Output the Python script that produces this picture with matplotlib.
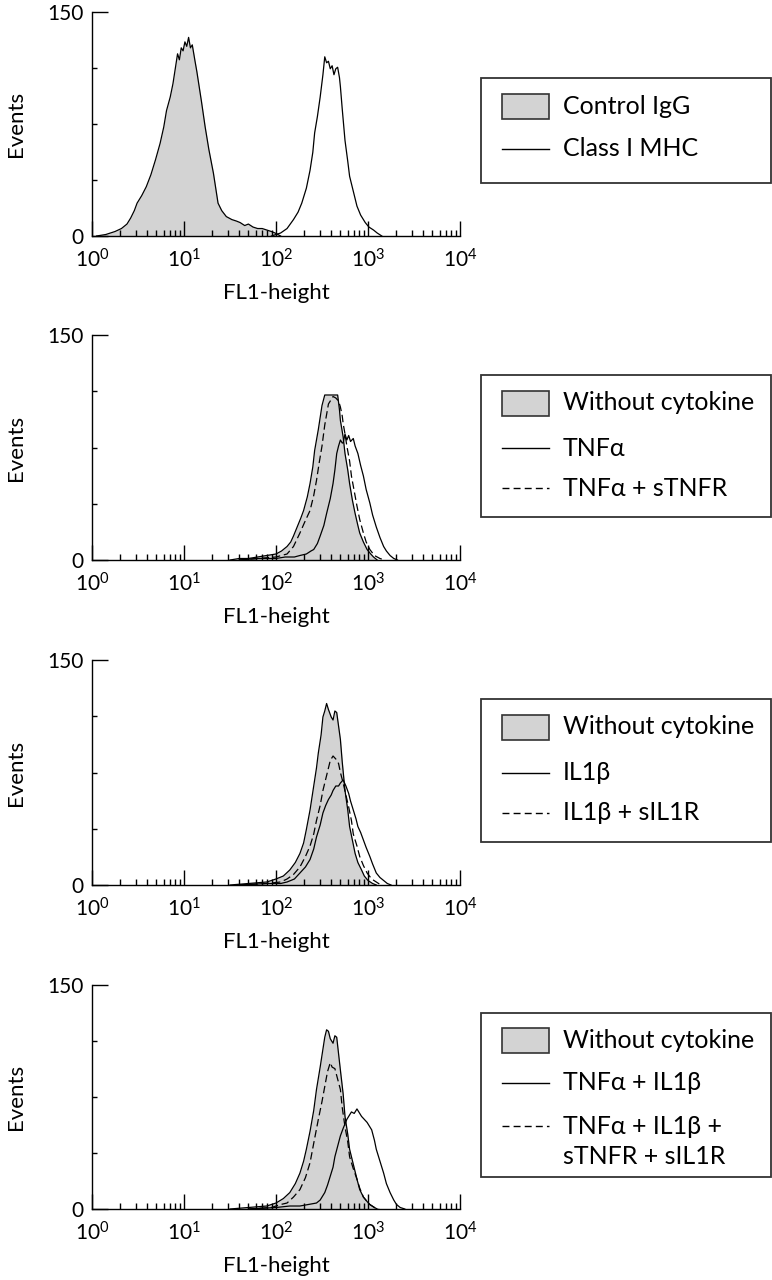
import matplotlib
matplotlib.use('Agg')

import numpy as np
import matplotlib.pyplot as plt
from matplotlib.patches import Rectangle
from matplotlib.lines import Line2D
from matplotlib.ticker import FixedLocator, NullFormatter

plt.rcParams['font.family'] = ['Lato', 'DejaVu Sans']

# ---- data: log10(FL1-height) positions and event counts ----
# panel 1
igg_x = [0.05, 0.15, 0.25, 0.32, 0.38, 0.42, 0.46, 0.49, 0.54, 0.59, 0.64, 0.69, 0.74, 0.78, 0.81, 0.85,
         0.88, 0.90, 0.93, 0.95, 0.97, 0.99, 1.01, 1.03, 1.05, 1.07, 1.09, 1.12, 1.14, 1.16, 1.19, 1.23,
         1.27, 1.32, 1.35, 1.37, 1.41, 1.46, 1.52, 1.57, 1.61, 1.66, 1.70, 1.75, 1.80, 1.85, 1.90, 1.95,
         1.99, 2.05]
igg_y = [0, 1, 3, 5, 8, 12, 17, 22, 27, 33, 41, 51, 62, 73, 84, 93,
         102, 110, 122, 118, 126, 124, 130, 127, 133, 126, 128, 117, 110, 102, 90, 73,
         58, 42, 30, 22, 17, 13, 11, 10, 9, 7, 8, 6, 5, 5, 4, 3,
         2, 0]
mhc_x = [1.95, 2.05, 2.12, 2.19, 2.24, 2.28, 2.33, 2.37, 2.40, 2.42, 2.45, 2.48, 2.51, 2.53, 2.55, 2.57,
         2.59, 2.61, 2.63, 2.65, 2.67, 2.69, 2.70, 2.72, 2.75, 2.78, 2.80, 2.84, 2.88, 2.92, 2.97, 3.01,
         3.06, 3.10, 3.15]
mhc_y = [0, 2, 5, 11, 16, 22, 32, 44, 56, 69, 80, 93, 108, 120, 116, 117,
         112, 114, 108, 112, 113, 106, 100, 85, 64, 50, 40, 30, 20, 14, 9, 6,
         4, 2, 0]

# panel 2
base2_x = [1.50, 1.60, 1.70, 1.80, 1.90, 2.00, 2.06, 2.12, 2.16, 2.19, 2.23, 2.27, 2.30, 2.34, 2.37, 2.40,
           2.42, 2.44, 2.46, 2.48, 2.50, 2.53, 2.60, 2.67, 2.69, 2.70, 2.73, 2.75, 2.78, 2.80, 2.83, 2.86,
           2.89, 2.91, 2.95, 2.99, 3.03, 3.06, 3.10]
base2_y = [0, 1, 1, 2, 3, 4, 6, 9, 12, 16, 22, 28, 33, 42, 51, 62,
           73, 80, 87, 95, 103, 110, 110, 110, 100, 93, 82, 71, 60, 51, 40, 31,
           23, 18, 12, 7, 4, 2, 0]
tnf_x = [1.60, 1.80, 2.00, 2.10, 2.20, 2.26, 2.33, 2.38, 2.41, 2.45, 2.48, 2.52, 2.55, 2.59, 2.62, 2.64,
         2.66, 2.68, 2.70, 2.72, 2.73, 2.75, 2.77, 2.79, 2.81, 2.84, 2.86, 2.89, 2.92, 2.95, 2.98, 3.02,
         3.05, 3.09, 3.13, 3.17, 3.20, 3.24, 3.28, 3.32]
tnf_y = [0, 1, 1, 2, 2, 3, 4, 6, 7, 11, 16, 23, 31, 41, 51, 60,
         71, 76, 80, 78, 78, 84, 80, 83, 79, 81, 76, 71, 63, 56, 47, 38,
         30, 22, 15, 9, 6, 3, 1, 0]
tnf_s_x = [1.60, 1.80, 2.00, 2.12, 2.19, 2.26, 2.31, 2.37, 2.41, 2.44, 2.47, 2.50, 2.53, 2.57, 2.60, 2.62,
           2.65, 2.68, 2.70, 2.72, 2.73, 2.75, 2.77, 2.80, 2.82, 2.85, 2.88, 2.91, 2.95, 2.98, 3.02, 3.07,
           3.13, 3.18]
tnf_s_y = [0, 1, 2, 4, 9, 18, 25, 33, 43, 53, 65, 76, 90, 104, 107, 109,
           108, 106, 102, 96, 91, 84, 76, 66, 56, 46, 36, 27, 18, 12, 7, 3,
           1, 0]

# panel 3
base3_x = [1.50, 1.70, 1.90, 2.00, 2.08, 2.15, 2.21, 2.26, 2.30, 2.33, 2.37, 2.41, 2.44, 2.46, 2.49, 2.51,
           2.53, 2.55, 2.57, 2.60, 2.62, 2.64, 2.66, 2.68, 2.70, 2.72, 2.75, 2.78, 2.80, 2.83, 2.86, 2.89,
           2.93, 2.96, 3.00, 3.05, 3.09]
base3_y = [0, 1, 2, 4, 6, 10, 15, 21, 28, 37, 50, 66, 78, 88, 100, 112,
           116, 121, 117, 112, 110, 116, 115, 106, 97, 82, 63, 50, 39, 30, 21, 15,
           10, 6, 3, 1, 0]
il1_x = [1.60, 1.90, 2.05, 2.12, 2.20, 2.26, 2.32, 2.37, 2.41, 2.44, 2.48, 2.51, 2.54, 2.57, 2.60, 2.62,
         2.65, 2.68, 2.70, 2.73, 2.76, 2.79, 2.81, 2.84, 2.87, 2.89, 2.92, 2.95, 2.98, 3.02, 3.05, 3.09,
         3.13, 3.17, 3.21, 3.25]
il1_y = [0, 1, 1, 2, 4, 8, 12, 17, 24, 32, 40, 48, 53, 57, 60, 63,
         66, 66, 68, 70, 66, 61, 56, 50, 44, 39, 35, 30, 25, 19, 14, 8,
         5, 3, 1, 0]
il1_s_x = [1.60, 1.90, 2.05, 2.12, 2.19, 2.26, 2.32, 2.37, 2.41, 2.44, 2.48, 2.51, 2.55, 2.59, 2.62, 2.65,
           2.68, 2.70, 2.73, 2.76, 2.79, 2.82, 2.84, 2.88, 2.91, 2.95, 2.99, 3.04, 3.09, 3.14]
il1_s_y = [0, 1, 2, 4, 7, 12, 19, 26, 34, 43, 53, 63, 73, 83, 86, 84,
           81, 75, 68, 60, 52, 43, 34, 26, 19, 13, 8, 4, 2, 0]

# panel 4
base4_x = [1.50, 1.70, 1.90, 2.00, 2.08, 2.15, 2.21, 2.26, 2.30, 2.33, 2.37, 2.41, 2.44, 2.48, 2.51, 2.53,
           2.55, 2.57, 2.59, 2.62, 2.64, 2.66, 2.68, 2.70, 2.73, 2.75, 2.78, 2.80, 2.84, 2.88, 2.91, 2.95,
           2.99, 3.02, 3.07, 3.10]
base4_y = [0, 1, 2, 4, 7, 11, 17, 24, 32, 40, 52, 66, 80, 95, 107, 115,
           120, 119, 114, 111, 116, 115, 104, 93, 77, 62, 50, 40, 30, 20, 13, 8,
           5, 3, 1, 0]
combo_x = [1.70, 2.00, 2.15, 2.26, 2.35, 2.44, 2.48, 2.53, 2.56, 2.59, 2.62, 2.64, 2.67, 2.70, 2.73, 2.77,
           2.80, 2.82, 2.85, 2.88, 2.91, 2.93, 2.96, 2.99, 3.02, 3.04, 3.07, 3.09, 3.13, 3.17, 3.20, 3.24,
           3.28, 3.31, 3.35, 3.40]
combo_y = [0, 1, 2, 2, 3, 4, 6, 11, 16, 22, 28, 35, 42, 49, 54, 60,
           63, 65, 64, 67, 64, 62, 60, 58, 55, 53, 46, 40, 32, 24, 17, 11,
           6, 3, 1, 0]
combo_s_x = [1.70, 1.95, 2.05, 2.12, 2.19, 2.26, 2.32, 2.37, 2.41, 2.46, 2.50, 2.53, 2.56, 2.59, 2.61, 2.64,
             2.67, 2.70, 2.72, 2.75, 2.78, 2.80, 2.84, 2.88, 2.91, 2.95, 2.99, 3.02, 3.07, 3.12]
combo_s_y = [0, 1, 3, 4, 8, 13, 21, 31, 44, 60, 72, 82, 92, 98, 95, 94,
             87, 80, 68, 55, 45, 35, 27, 20, 14, 8, 5, 3, 1, 0]

legend1 = ['Control IgG', 'Class I MHC']
legend2 = ['Without cytokine', 'TNF\u03b1', 'TNF\u03b1 + sTNFR']
legend3 = ['Without cytokine', 'IL1\u03b2', 'IL1\u03b2 + sIL1R']
legend4 = ['Without cytokine', 'TNF\u03b1 + IL1\u03b2', 'TNF\u03b1 + IL1\u03b2 +\nsTNFR + sIL1R']

W, H = 772, 1280
fig = plt.figure(figsize=(W / 100, H / 100), dpi=100)

FILL = '#d3d3d3'
LW = 0.9


def fy(px):
    return 1 - px / H


def fx(px):
    return px / W


def make_axes(top_px, bot_px):
    ax = fig.add_axes([fx(92), fy(bot_px), fx(460) - fx(92), (bot_px - top_px) / H])
    ax.set_xscale('log')
    ax.set_xlim(1, 1e4)
    ax.set_ylim(0, 150)
    ax.spines['top'].set_visible(False)
    ax.spines['right'].set_visible(False)
    for s in ('left', 'bottom'):
        ax.spines[s].set_linewidth(1.0)
    ax.xaxis.set_major_locator(FixedLocator([1, 10, 100, 1000, 10000]))
    minors = [m * 10 ** d for d in range(4) for m in range(2, 10)]
    ax.xaxis.set_minor_locator(FixedLocator(minors))
    ax.xaxis.set_minor_formatter(NullFormatter())
    ax.set_xticklabels([r'$\mathregular{10^{%d}}$' % d for d in range(5)])
    ax.set_yticks([0, 150])
    ax.set_yticklabels(['0', '150'])
    ax.yaxis.set_minor_locator(FixedLocator([37.5, 75, 112.5]))
    ax.tick_params(axis='x', which='major', direction='in', length=11, width=1,
                   labelsize=15, pad=9)
    ax.tick_params(axis='x', which='minor', direction='in', length=4.5, width=1)
    ax.tick_params(axis='y', which='major', direction='in', length=11.5, width=1,
                   labelsize=15, pad=6)
    ax.tick_params(axis='y', which='minor', direction='in', length=3.5, width=1)
    ax.set_xlabel('FL1-height', fontsize=16, labelpad=8)
    ax.set_ylabel('Events', fontsize=16)
    ax.yaxis.set_label_coords(-0.18, 0.5)
    return ax


def fill_curve(ax, lx, y):
    x = 10 ** np.array(lx)
    ax.fill_between(x, y, 0, color=FILL, lw=0, zorder=1)
    ax.plot(x, y, color='black', lw=LW, zorder=2)


def line_curve(ax, lx, y, dashed=False):
    x = 10 ** np.array(lx)
    ax.plot(x, y, color='black', lw=LW, ls=(0, (6, 3)) if dashed else '-', zorder=3)


def legend_box(top_px, bot_px, labels, rows_px, dashed_last=True):
    fig.add_artist(Rectangle((fx(481), fy(bot_px)), fx(771) - fx(481), (bot_px - top_px) / H,
                             transform=fig.transFigure, fill=False, ec='#333333', lw=1.3))
    for i, (lab, ry) in enumerate(zip(labels, rows_px)):
        if i == 0:
            fig.add_artist(Rectangle((fx(502), fy(ry + 12.5)), fx(549) - fx(502), 25 / H,
                                     transform=fig.transFigure, fc=FILL, ec='#333333', lw=1.2))
        else:
            ls = (0, (5, 3)) if (i == 2 and dashed_last) else '-'
            fig.add_artist(Line2D([fx(502), fx(549)], [fy(ry), fy(ry)], transform=fig.transFigure,
                                  color='black', lw=1.0, ls=ls))
        fig.text(fx(563), fy(ry), lab.split('\n')[0], fontsize=18, va='center', ha='left')
        if '\n' in lab:
            fig.text(fx(563), fy(ry + 31), lab.split('\n')[1], fontsize=18, va='center', ha='left')


# panel 1
ax1 = make_axes(12, 236)
fill_curve(ax1, igg_x, igg_y)
line_curve(ax1, mhc_x, mhc_y)
legend_box(78, 183, legend1, [106, 149])

# panel 2
ax2 = make_axes(335, 560)
fill_curve(ax2, base2_x, base2_y)
line_curve(ax2, tnf_x, tnf_y)
line_curve(ax2, tnf_s_x, tnf_s_y, dashed=True)
legend_box(375, 517, legend2, [403, 448, 488])

# panel 3
ax3 = make_axes(660, 885)
fill_curve(ax3, base3_x, base3_y)
line_curve(ax3, il1_x, il1_y)
line_curve(ax3, il1_s_x, il1_s_y, dashed=True)
legend_box(699, 842, legend3, [727, 773, 813])

# panel 4
ax4 = make_axes(985, 1209)
fill_curve(ax4, base4_x, base4_y)
line_curve(ax4, combo_x, combo_y)
line_curve(ax4, combo_s_x, combo_s_y, dashed=True)
legend_box(1013, 1177, legend4, [1040, 1083, 1126])

fig.savefig('out.png', dpi=100)
